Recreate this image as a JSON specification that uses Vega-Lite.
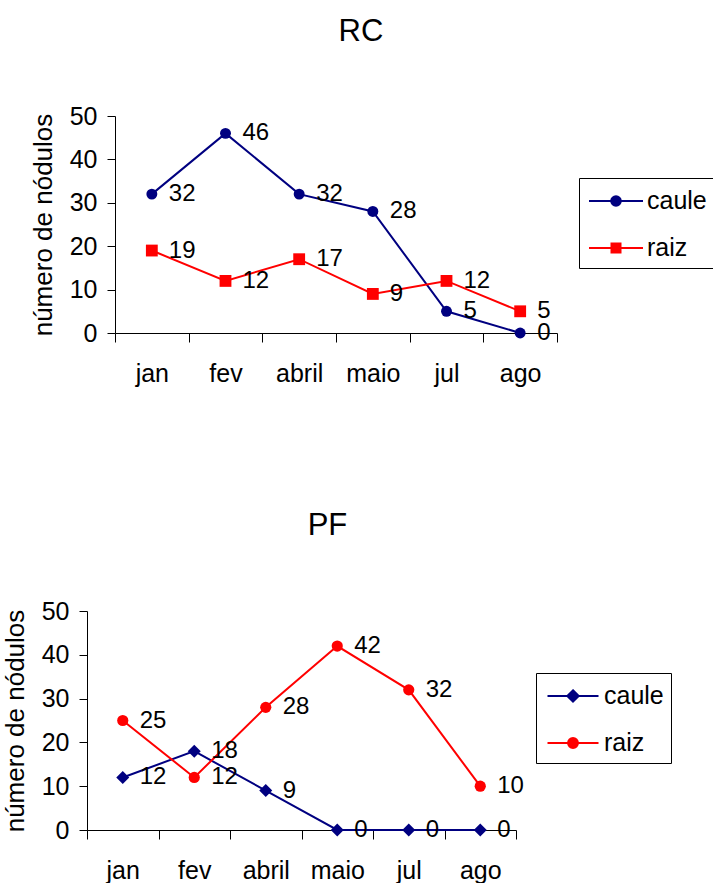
{
  "$schema": "https://vega.github.io/schema/vega-lite/v6.json",
  "background": "white",
  "padding": {"left": 2, "top": 16, "right": 0, "bottom": 0},
  "spacing": 124,
  "resolve": {
    "scale": {"shape": "independent", "fill": "independent", "stroke": "independent"},
    "legend": {"shape": "independent", "fill": "independent", "stroke": "independent"}
  },
  "datasets": {
    "rc": [
      {"month": "jan", "series": "caule", "value": 32},
      {"month": "fev", "series": "caule", "value": 46},
      {"month": "abril", "series": "caule", "value": 32},
      {"month": "maio", "series": "caule", "value": 28},
      {"month": "jul", "series": "caule", "value": 5},
      {"month": "ago", "series": "caule", "value": 0},
      {"month": "jan", "series": "raiz", "value": 19},
      {"month": "fev", "series": "raiz", "value": 12},
      {"month": "abril", "series": "raiz", "value": 17},
      {"month": "maio", "series": "raiz", "value": 9},
      {"month": "jul", "series": "raiz", "value": 12},
      {"month": "ago", "series": "raiz", "value": 5}
    ],
    "pf": [
      {"month": "jan", "series": "caule", "value": 12},
      {"month": "fev", "series": "caule", "value": 18},
      {"month": "abril", "series": "caule", "value": 9},
      {"month": "maio", "series": "caule", "value": 0},
      {"month": "jul", "series": "caule", "value": 0},
      {"month": "ago", "series": "caule", "value": 0},
      {"month": "jan", "series": "raiz", "value": 25},
      {"month": "fev", "series": "raiz", "value": 12},
      {"month": "abril", "series": "raiz", "value": 28},
      {"month": "maio", "series": "raiz", "value": 42},
      {"month": "jul", "series": "raiz", "value": 32},
      {"month": "ago", "series": "raiz", "value": 10}
    ]
  },
  "vconcat": [
    {
      "width": 470,
      "height": 217,
      "title": {"text": "RC", "dx": 39, "offset": 56},
      "data": {"name": "rc"},
      "encoding": {
        "x": {"field": "month", "type": "nominal",
              "scale": {"domain": ["jan", "fev", "abril", "maio", "jul", "ago"], "range": [28, 470], "paddingInner": 0, "paddingOuter": 0},
              "axis": {"title": null, "tickBand": "extent"}},
        "y": {"field": "value", "type": "quantitative",
              "scale": {"domain": [0, 50], "nice": false},
              "axis": {"title": "número de nódulos", "values": [0, 10, 20, 30, 40, 50], "offset": -28}}
      },
      "layer": [
        {
          "transform": [{"filter": "datum.series === 'caule'"}],
          "mark": {"type": "line", "strokeWidth": 2, "color": "#000080"},
          "encoding": {}
        },
        {
          "transform": [{"filter": "datum.series === 'raiz'"}],
          "mark": {"type": "line", "strokeWidth": 2, "color": "#ff0000"},
          "encoding": {}
        },
        {
          "transform": [{"filter": "datum.series === 'caule'"}],
          "mark": {"type": "point", "shape": "circle", "filled": true, "opacity": 1, "size": 120, "color": "#000080"}
        },
        {
          "transform": [{"filter": "datum.series === 'raiz'"}],
          "mark": {"type": "point", "shape": "square", "filled": true, "opacity": 1, "size": 140, "color": "#ff0000"}
        },
        {
          "mark": {"type": "text", "align": "left", "baseline": "middle", "dx": 17, "fontSize": 24, "color": "#000"},
          "encoding": {"text": {"field": "value", "type": "quantitative"}}
        },
        {
          "mark": {"type": "point", "filled": true, "opacity": 0},
          "encoding": {
            "shape": {"field": "series", "type": "nominal",
                      "scale": {"domain": ["caule", "raiz"], "range": ["M-1.8,0H1.8M0.32,0A0.32,0.32,0,1,1,-0.32,0A0.32,0.32,0,1,1,0.32,0Z", "M-1.8,0H1.8M-0.3,-0.3H0.3V0.3H-0.3Z"]},
                      "legend": {"title": null, "orient": "none", "legendX": 492, "legendY": 62}},
            "fill": {"field": "series", "type": "nominal", "scale": {"domain": ["caule", "raiz"], "range": ["#000080", "#ff0000"]},
                     "legend": {"title": null, "orient": "none", "legendX": 492, "legendY": 62}},
            "stroke": {"field": "series", "type": "nominal", "scale": {"domain": ["caule", "raiz"], "range": ["#000080", "#ff0000"]},
                       "legend": {"title": null, "orient": "none", "legendX": 492, "legendY": 62}}
          }
        }
      ]
    },
    {
      "width": 429,
      "height": 219,
      "title": {"text": "PF", "dx": 26, "offset": 57},
      "data": {"name": "pf"},
      "encoding": {
        "x": {"field": "month", "type": "nominal",
              "scale": {"domain": ["jan", "fev", "abril", "maio", "jul", "ago"], "paddingInner": 0, "paddingOuter": 0},
              "axis": {"title": null, "tickBand": "extent"}},
        "y": {"field": "value", "type": "quantitative",
              "scale": {"domain": [0, 50], "nice": false},
              "axis": {"title": "número de nódulos", "values": [0, 10, 20, 30, 40, 50]}}
      },
      "layer": [
        {
          "transform": [{"filter": "datum.series === 'caule'"}],
          "mark": {"type": "line", "strokeWidth": 2, "color": "#000080"},
          "encoding": {}
        },
        {
          "transform": [{"filter": "datum.series === 'raiz'"}],
          "mark": {"type": "line", "strokeWidth": 2, "color": "#ff0000"},
          "encoding": {}
        },
        {
          "transform": [{"filter": "datum.series === 'caule'"}],
          "mark": {"type": "point", "shape": "diamond", "filled": true, "opacity": 1, "size": 170, "color": "#000080"}
        },
        {
          "transform": [{"filter": "datum.series === 'raiz'"}],
          "mark": {"type": "point", "shape": "circle", "filled": true, "opacity": 1, "size": 125, "color": "#ff0000"}
        },
        {
          "mark": {"type": "text", "align": "left", "baseline": "middle", "dx": 17, "fontSize": 24, "color": "#000"},
          "encoding": {"text": {"field": "value", "type": "quantitative"}}
        },
        {
          "mark": {"type": "point", "filled": true, "opacity": 0},
          "encoding": {
            "shape": {"field": "series", "type": "nominal",
                      "scale": {"domain": ["caule", "raiz"], "range": ["M-1.7,0H1.7M0,-0.38L0.38,0L0,0.38L-0.38,0Z", "M-1.7,0H1.7M0.33,0A0.33,0.33,0,1,1,-0.33,0A0.33,0.33,0,1,1,0.33,0Z"]},
                      "legend": {"title": null, "orient": "none", "legendX": 449, "legendY": 62}},
            "fill": {"field": "series", "type": "nominal", "scale": {"domain": ["caule", "raiz"], "range": ["#000080", "#ff0000"]},
                     "legend": {"title": null, "orient": "none", "legendX": 449, "legendY": 62}},
            "stroke": {"field": "series", "type": "nominal", "scale": {"domain": ["caule", "raiz"], "range": ["#000080", "#ff0000"]},
                       "legend": {"title": null, "orient": "none", "legendX": 449, "legendY": 62}}
          }
        }
      ]
    }
  ],
  "config": {
    "font": "Liberation Sans",
    "view": {"stroke": null},
    "axis": {
      "domainColor": "#000", "tickColor": "#000", "labelColor": "#000", "titleColor": "#000",
      "labelFont": "Liberation Sans", "labelFontSize": 25,
      "titleFont": "Liberation Sans", "titleFontSize": 26, "titleFontWeight": "normal",
      "grid": false, "tickSize": 8, "domainWidth": 1, "tickWidth": 1
    },
    "axisX": {"labelPadding": 19, "tickSize": 9, "labelAngle": 0},
    "axisY": {"labelPadding": 10, "titlePadding": 13},
    "title": {"font": "Liberation Sans", "fontSize": 31, "fontWeight": "normal", "color": "#000", "frame": "group", "baseline": "alphabetic", "anchor": "middle"},
    "legend": {
      "symbolSize": 900, "symbolStrokeWidth": 2, "symbolOffset": 14, "symbolOpacity": 1,
      "labelFont": "Liberation Sans", "labelFontSize": 25, "labelColor": "#000", "labelOffset": 15,
      "padding": 7, "rowPadding": 18, "strokeColor": "#000", "fillColor": "#fff", "cornerRadius": 0
    }
  }
}
